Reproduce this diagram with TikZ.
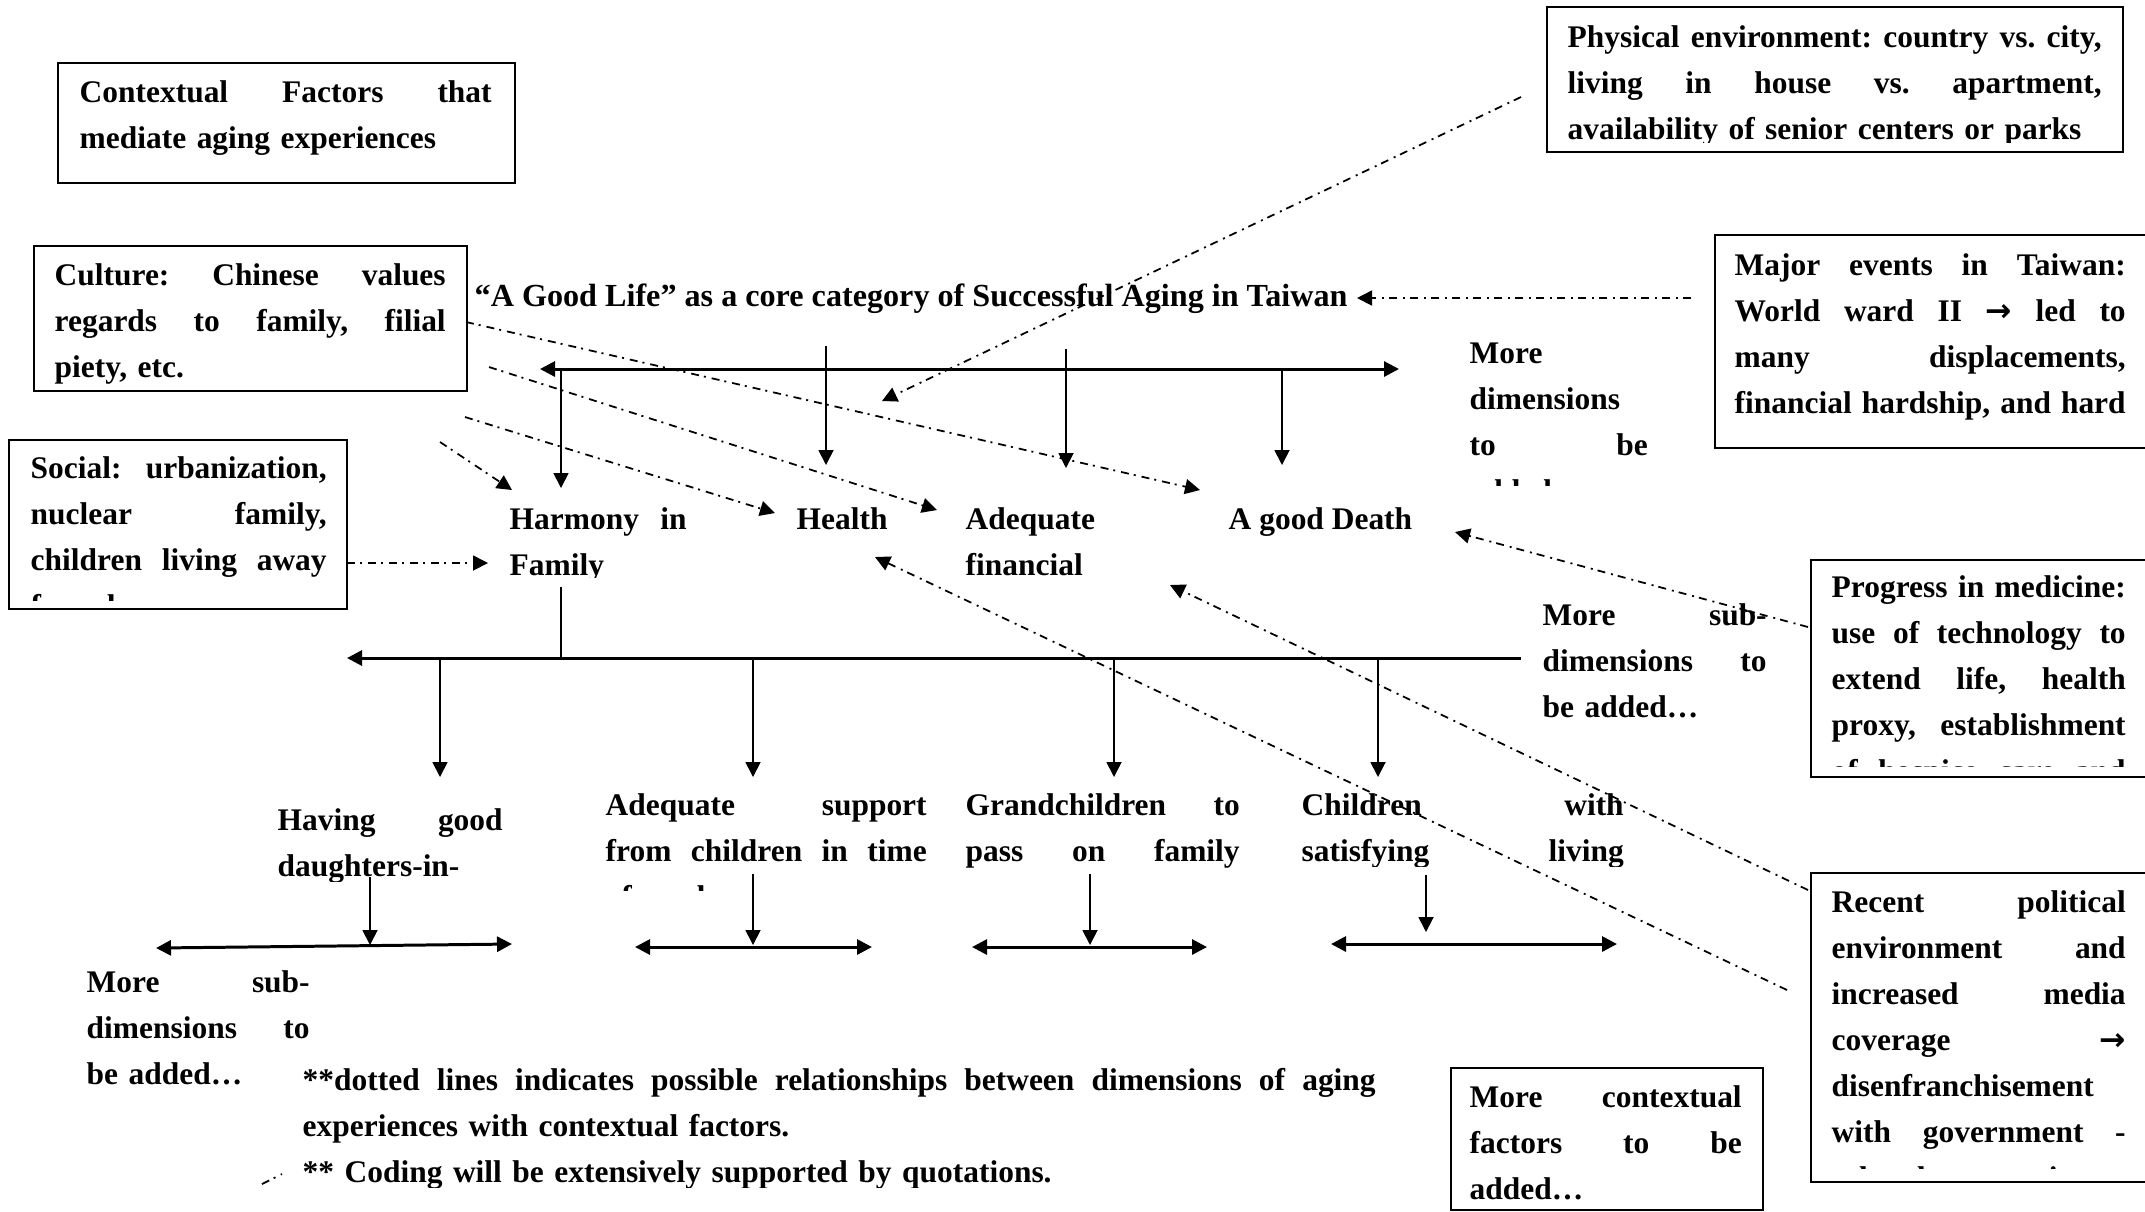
\documentclass[tikz,border=0pt]{standalone}
\usepackage{fontspec}
\setmainfont{Liberation Serif}
\newfontfamily\arrowfont{DejaVu Sans}
\usepackage{tikz}
\usetikzlibrary{arrows.meta}

\newcommand{\jline}[1]{\makebox[\hsize][s]{\spaceskip=0pt\xspaceskip=0pt #1}}
\newcommand{\rarr}{{\arrowfont\bfseries →}}

\begin{document}
\begin{tikzpicture}
            \useasboundingbox (0,0) rectangle (21.45,-12.11);

            % boxes of the contextual factors
            \begin{scope}[every node/.style={draw,line width=0.6pt,rectangle,inner sep=0pt,anchor=north west}]
                \node[minimum width=4.57cm,minimum height=1.20cm] (headbox) at (0.57,-0.62) {};
                \node[minimum width=4.33cm,minimum height=1.45cm] (culturebox) at (0.33,-2.45) {};
                \node[minimum width=3.38cm,minimum height=1.69cm] (socialbox) at (0.08,-4.39) {};
                \node[minimum width=5.76cm,minimum height=1.45cm] (physbox) at (15.46,-0.06) {};
                \node[minimum width=4.51cm,minimum height=2.13cm] (majorbox) at (17.14,-2.34) {};
                \node[minimum width=3.55cm,minimum height=2.17cm] (progressbox) at (18.10,-5.59) {};
                \node[minimum width=3.55cm,minimum height=3.09cm] (politicalbox) at (18.10,-8.72) {};
                \node[minimum width=3.12cm,minimum height=1.42cm] (morectxbox) at (14.50,-10.67) {};
            \end{scope}

            % texts
            \begin{scope}[every node/.style={inner sep=0pt,anchor=base west,
                              font=\fontsize{8.95pt}{13.1pt}\selectfont\bfseries\frenchspacing},
                          dimtext/.style={text width=#1}]
                \node[dimtext=4.12cm] (head) at (0.79,-1.02) {\jline{Contextual Factors that}\\mediate aging experiences};
                \begin{scope}
                    \clip (culturebox.north west) rectangle ([yshift=0.09cm]culturebox.south east);
                    \node[dimtext=3.91cm] (culture) at (0.54,-2.85) {\jline{Culture: Chinese values}\\\jline{regards to family, filial}\\piety, etc.};
                \end{scope}
                \begin{scope}
                    \clip (socialbox.north west) rectangle ([yshift=0.10cm]socialbox.south east);
                    \node[dimtext=2.96cm] (social) at (0.30,-4.78) {\jline{Social: urbanization,}\\\jline{nuclear family,}\\\jline{children living away}\\from home.};
                \end{scope}
                \begin{scope}
                    \clip (physbox.north west) rectangle ([yshift=0.11cm]physbox.south east);
                    \node[dimtext=5.34cm] (phys) at (15.67,-0.47) {\jline{Physical environment: country vs. city,}\\\jline{living in house vs. apartment,}\\availability of senior centers or parks};
                \end{scope}
                \node[dimtext=3.91cm] (major) at (17.34,-2.75) {\jline{Major events in Taiwan:}\\\jline{World ward II \rarr{} led to}\\\jline{many displacements,}\\\jline{financial hardship, and hard}};
                \begin{scope}
                    \clip (progressbox.north west) rectangle ([yshift=0.12cm]progressbox.south east);
                    \node[dimtext=2.94cm] (progress) at (18.31,-5.97) {\jline{Progress in medicine:}\\\jline{use of technology to}\\\jline{extend life, health}\\\jline{proxy, establishment}\\\jline{of hospice care and}};
                \end{scope}
                \begin{scope}
                    \clip (politicalbox.north west) rectangle ([yshift=0.15cm]politicalbox.south east);
                    \node[dimtext=2.94cm] (political) at (18.31,-9.12) {\jline{Recent political}\\\jline{environment and}\\\jline{increased media}\\\jline{coverage \rarr}\\disenfranchisement\\\jline{with government -}\\\jline{related issues}};
                \end{scope}
                \node[dimtext=2.72cm] (morectx) at (14.69,-11.07) {\jline{More contextual}\\\jline{factors to be}\\added…};

                \node[font=\fontsize{9.15pt}{13.1pt}\selectfont\bfseries] (core) at (4.74,-3.06) {“A Good Life” as a core category of Successful Aging in Taiwan};
                \begin{scope}
                    \clip (5.00,-4.80) rectangle (7.00,-5.77);
                    \node[dimtext=1.77cm] (harmony) at (5.09,-5.29) {\jline{Harmony in}\\Family};
                \end{scope}
                \node (health) at (7.96,-5.29) {Health};
                \begin{scope}
                    \clip (9.55,-4.80) rectangle (11.80,-5.77);
                    \node[dimtext=2.00cm] (financial) at (9.65,-5.29) {Adequate\\financial\\support};
                \end{scope}
                \node (death) at (12.28,-5.29) {A good Death};
                \begin{scope}
                    \clip (14.60,-3.20) rectangle (16.60,-4.85);
                    \node[dimtext=1.78cm] (moredim) at (14.69,-3.63) {More\\dimensions\\\jline{to be}\\added…};
                \end{scope}
                \node[dimtext=2.24cm] (moresubR) at (15.42,-6.25) {\jline{More sub-}\\\jline{dimensions to}\\be added…};

                \begin{scope}
                    \clip (2.70,-7.80) rectangle (5.20,-8.81);
                    \node[dimtext=2.25cm] (having) at (2.77,-8.30) {\jline{Having good}\\daughters-in-\\law};
                \end{scope}
                \begin{scope}
                    \clip (5.95,-7.70) rectangle (9.40,-8.90);
                    \node[dimtext=3.21cm] (support) at (6.05,-8.15) {\jline{Adequate support}\\\jline{from children in time}\\of need};
                \end{scope}
                \node[dimtext=2.74cm] (grand) at (9.65,-8.15) {\jline{Grandchildren to}\\\jline{pass on family}};
                \begin{scope}
                    \clip (12.90,-7.70) rectangle (16.40,-8.66);
                    \node[dimtext=3.22cm] (children) at (13.01,-8.15) {\jline{Children with}\\\jline{satisfying living}};
                \end{scope}
                \node[dimtext=2.23cm] (moresubL) at (0.86,-9.92) {\jline{More sub-}\\\jline{dimensions to}\\be added…};
                \begin{scope}
                    \clip (2.90,-10.50) rectangle (14.00,-11.87);
                    \node[dimtext=10.73cm] (note) at (3.02,-10.90) {\jline{**dotted lines indicates possible relationships between dimensions of aging}\\experiences with contextual factors.\\{}** Coding will be extensively supported by quotations.};
                \end{scope}
            \end{scope}

            % ends of the connectors
            \coordinate (barL) at (5.40,-3.69);
            \coordinate (barR) at (13.99,-3.69);
            \coordinate (harmonyJoin) at (5.61,-3.69);
            \coordinate (harmonyTip) at (5.61,-4.88);
            \coordinate (healthTop) at (8.26,-3.46);
            \coordinate (healthTip) at (8.26,-4.65);
            \coordinate (financialTop) at (10.66,-3.49);
            \coordinate (financialTip) at (10.66,-4.68);
            \coordinate (deathJoin) at (12.82,-3.69);
            \coordinate (deathTip) at (12.82,-4.65);
            \coordinate (harmonyFoot) at (5.61,-5.87);
            \coordinate (harmonyMid) at (5.61,-6.58);
            \coordinate (subL) at (3.47,-6.58);
            \coordinate (subR) at (15.21,-6.58);

            \coordinate (physEnd) at (15.21,-0.97);
            \coordinate (physTip) at (8.82,-4.01);
            \coordinate (majorEnd) at (16.91,-2.98);
            \coordinate (majorTip) at (13.57,-2.98);
            \coordinate (cultureEndA) at (4.66,-3.22);
            \coordinate (deathTipA) at (12.00,-4.90);
            \coordinate (cultureEndB) at (4.89,-3.67);
            \coordinate (financialTipA) at (9.37,-5.10);
            \coordinate (cultureEndC) at (4.65,-4.17);
            \coordinate (healthTipA) at (7.75,-5.13);
            \coordinate (cultureEndD) at (4.40,-4.42);
            \coordinate (harmonyTipA) at (5.12,-4.90);
            \coordinate (socialEnd) at (3.47,-5.63);
            \coordinate (harmonyTipB) at (4.88,-5.63);
            \coordinate (progressEnd) at (18.08,-6.27);
            \coordinate (deathTipB) at (14.55,-5.32);
            \coordinate (politicalEndA) at (18.08,-8.90);
            \coordinate (financialTipB) at (11.70,-5.85);
            \coordinate (politicalEndB) at (17.87,-9.90);
            \coordinate (healthTipB) at (8.75,-5.57);
            \coordinate (fragA) at (2.62,-11.84);
            \coordinate (fragB) at (2.82,-11.74);

            % tree of the dimensions
            \begin{scope}[>={Triangle[length=1.5mm,width=1.5mm]},line width=0.5pt,
                          every edge/.style={draw=black}]
                \path [<->,line width=0.85pt] (barL) edge (barR);
                \path [->] (harmonyJoin) edge (harmonyTip);
                \path [->] (healthTop) edge (healthTip);
                \path [->] (financialTop) edge (financialTip);
                \path [->] (deathJoin) edge (deathTip);
                \path [-] (harmonyFoot) edge (harmonyMid);
                \path [->,line width=0.85pt] (subR) edge (subL);
                \foreach \n/\x in {having/4.40,support/7.53,grand/11.14,children/13.78} {
                    \coordinate (\n-join) at (\x,-6.58);
                    \coordinate (\n-tip) at (\x,-7.77);
                    \path [->] (\n-join) edge (\n-tip);
                }
                \foreach \n/\x/\t/\b/\l/\ly/\r/\ry in {having/3.70/-8.77/-9.45/1.56/-9.48/5.12/-9.44,
                                                     support/7.53/-8.74/-9.45/6.35/-9.47/8.72/-9.47,
                                                     grand/10.90/-8.74/-9.45/9.72/-9.47/12.07/-9.47,
                                                     children/14.26/-8.75/-9.32/13.31/-9.44/16.17/-9.44} {
                    \coordinate (\n-foot) at (\x,\t);
                    \coordinate (\n-down) at (\x,\b);
                    \coordinate (\n-left) at (\l,\ly);
                    \coordinate (\n-right) at (\r,\ry);
                    \path [->] (\n-foot) edge (\n-down);
                    \path [<->,line width=0.85pt] (\n-left) edge (\n-right);
                }
            \end{scope}

            % possible relationships with the contextual factors
            \begin{scope}[>={Triangle[length=1.5mm,width=1.5mm]},line width=0.5pt,
                          dash pattern=on 0.8mm off 0.5mm on 0.2mm off 0.6mm,
                          every edge/.style={draw=black}]
                \path [->] (physEnd) edge (physTip);
                \path [->] (majorEnd) edge (majorTip);
                \path [->] (cultureEndA) edge (deathTipA);
                \path [->] (cultureEndB) edge (financialTipA);
                \path [->] (cultureEndC) edge (healthTipA);
                \path [->] (cultureEndD) edge (harmonyTipA);
                \path [->] (socialEnd) edge (harmonyTipB);
                \path [->] (progressEnd) edge (deathTipB);
                \path [->] (politicalEndA) edge (financialTipB);
                \path [->] (politicalEndB) edge (healthTipB);
                \path [-] (fragA) edge (fragB);
            \end{scope}
        \end{tikzpicture}
\end{document}
